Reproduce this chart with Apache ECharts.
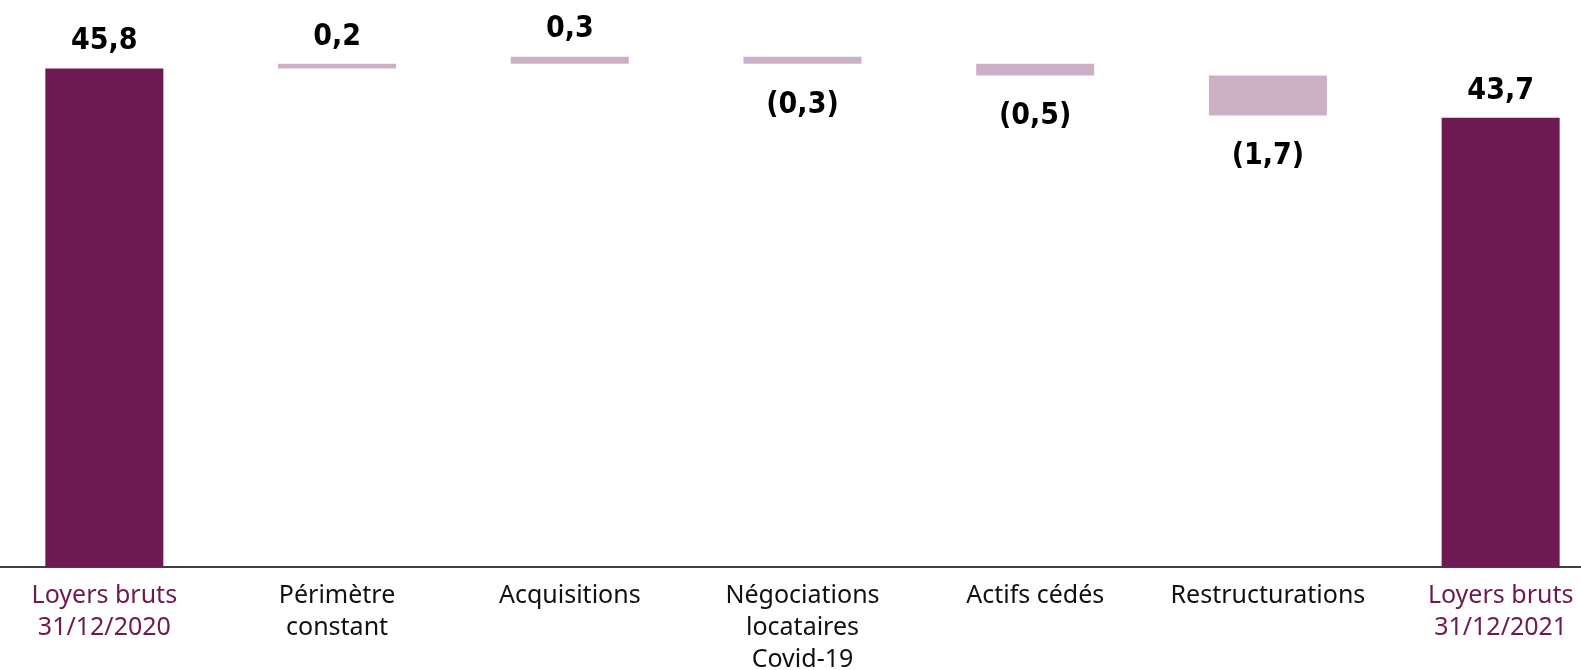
<!DOCTYPE html>
<html><head><meta charset="utf-8">
<script src="https://cdn.jsdelivr.net/npm/echarts@6/dist/echarts.min.js"></script>
<style>html,body{margin:0;padding:0;background:#fff}#c{width:1581px;height:670px}</style>
</head><body><div id="c"></div>
<script>
const categories = ['Loyers bruts\n31/12/2020','Périmètre\nconstant','Acquisitions','Négociations\nlocataires\nCovid-19','Actifs cédés','Restructurations','Loyers bruts\n31/12/2021'];
const values = [45.8, 0.2, 0.3, -0.3, -0.5, -1.7, 43.7];
const isTotal = [true, false, false, false, false, false, true];

const DARK = '#6D1A52', LIGHT = '#CCB1C6';
const base = [], visible = [];
let run = 0;
values.forEach((v, i) => {
  if (isTotal[i]) { base.push(0); visible.push(v); run = v; }
  else { const lo = Math.min(run, run + v); base.push(lo); visible.push(Math.abs(v)); run += v; }
});
const fmt = v => { const s = Math.abs(v).toFixed(1).replace('.', ','); return v < 0 ? '(' + s + ')' : s; };

const chart = echarts.init(document.getElementById('c'));
chart.setOption({
  animation: false,
  grid: { left: -12, right: -36, top: 20, bottom: 103, outerBoundsMode: 'none', containLabel: false },
  xAxis: {
    type: 'category', data: categories,
    axisTick: { show: false },
    axisLine: { lineStyle: { color: '#000', width: 1.5 } },
    axisLabel: {
      interval: 0, margin: 13, fontSize: 25, lineHeight: 32, fontFamily: '"Noto Sans", sans-serif',
      color: (val, idx) => isTotal[idx] ? DARK : '#111'
    }
  },
  yAxis: { type: 'value', min: 24.6, max: 47.86, show: false, splitLine: { show: false } },
  series: [
    { type: 'bar', stack: 'w', data: base, barWidth: 118, itemStyle: { color: 'transparent' }, silent: true },
    { type: 'bar', stack: 'w', barWidth: 118,
      data: visible.map((v, i) => ({
        value: v,
        itemStyle: { color: isTotal[i] ? DARK : LIGHT },
        label: {
          show: true,
          position: values[i] < 0 ? 'bottom' : 'top',
          distance: values[i] < 0 ? 26 : 12,
          formatter: () => fmt(values[i]),
          fontSize: 30, fontWeight: 'bold', color: '#000',
          fontFamily: '"DejaVu Sans Condensed", "DejaVu Sans", sans-serif'
        }
      }))
    }
  ]
});
</script></body></html>
